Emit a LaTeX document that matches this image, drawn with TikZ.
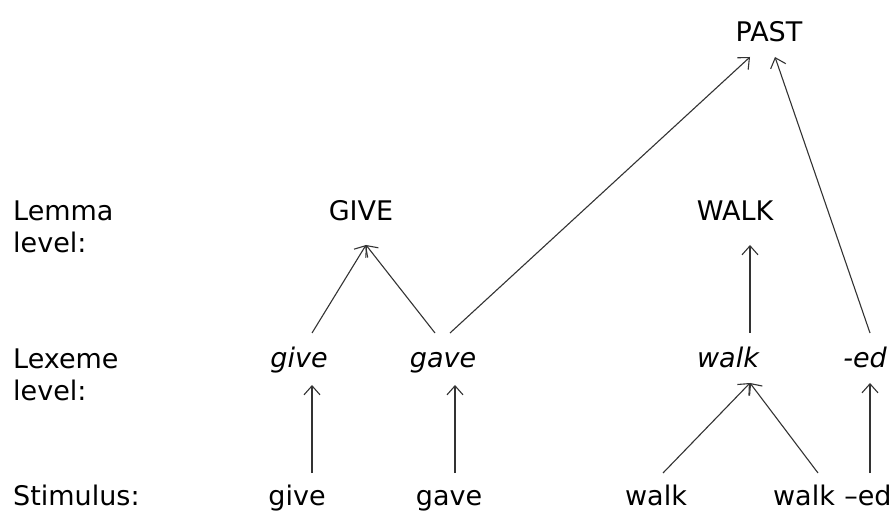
\documentclass[tikz,border=0pt]{standalone}
\usepackage{fontspec}
\setmainfont{DejaVu Sans}
\usetikzlibrary{arrows.meta,calc}
\begin{document}
\begin{tikzpicture}[x=1pt,y=1pt,
  lbl/.style={inner sep=0pt,anchor=base west,font=\fontsize{27}{32}\selectfont},
  word/.style={inner sep=0pt,anchor=base,font=\fontsize{27}{32}\selectfont},
  lex/.style={word,font=\fontsize{27}{32}\selectfont\itshape},
  arr/.style={draw=black!80,line width=1.1pt,-{Straight Barb[length=9pt,width=16pt,line width=1.1pt]}}]
\useasboundingbox (0,0) rectangle (893,511);
% left labels
\node[lbl] (lemA) at (13,290) {Lemma};
\node[lbl] (lemB) at (13,258) {level:};
\node[lbl] (lexA) at (13,142) {Lexeme};
\node[lbl] (lexB) at (13,110) {level:};
\node[lbl] (stim) at (13,6) {Stimulus:};
% top
\node[word] (PAST) at (769,469) {PAST};
% lemma
\node[word] (GIVE) at (361,290) {GIVE};
\node[word] (WALK) at (735,290) {WALK};
% lexeme
\node[lex] (lgive) at (299,143) {give};
\node[lex] (lgave) at (443,143) {gave};
\node[lex] (lwalk) at (728,143) {walk};
\node[lex] (led) at (865,143) {-ed};
% stimulus
\node[word] (sgive) at (297,6) {give};
\node[word] (sgave) at (449,6) {gave};
\node[word] (swalk) at (656,6) {walk};
\node[word] (swalkb) at (804,6) {walk};
\node[word] (sed) at (868,6) {–ed};
% stimulus to lexeme
\draw[arr] ($(sgive.base)+(15,32)$) -- ($(lgive.base)+(13,-17)$);
\draw[arr] ($(sgave.base)+(6,32)$) -- ($(lgave.base)+(12,-17)$);
\draw[arr] ($(swalk.base)+(7,32)$) -- ($(lwalk.base)+(22,-15)$);
\draw[arr] ($(swalkb.base)+(14,32)$) -- ($(lwalk.base)+(22,-15)$);
\draw[arr] ($(sed.base)+(2,32)$) -- ($(led.base)+(5,-15)$);
% lexeme to lemma
\draw[arr] ($(lgive.base)+(13,35)$) -- ($(GIVE.base)+(5,-24)$);
\draw[arr] ($(lgave.base)+(-8,35)$) -- ($(GIVE.base)+(5,-24)$);
\draw[arr] ($(lwalk.base)+(22,35)$) -- ($(WALK.base)+(15,-24)$);
% to PAST
\draw[arr] ($(lgave.base)+(7,35)$) -- ($(PAST.base)+(-19,-15)$);
\draw[arr] ($(led.base)+(5,35)$) -- ($(PAST.base)+(6,-15)$);
\end{tikzpicture}
\end{document}
